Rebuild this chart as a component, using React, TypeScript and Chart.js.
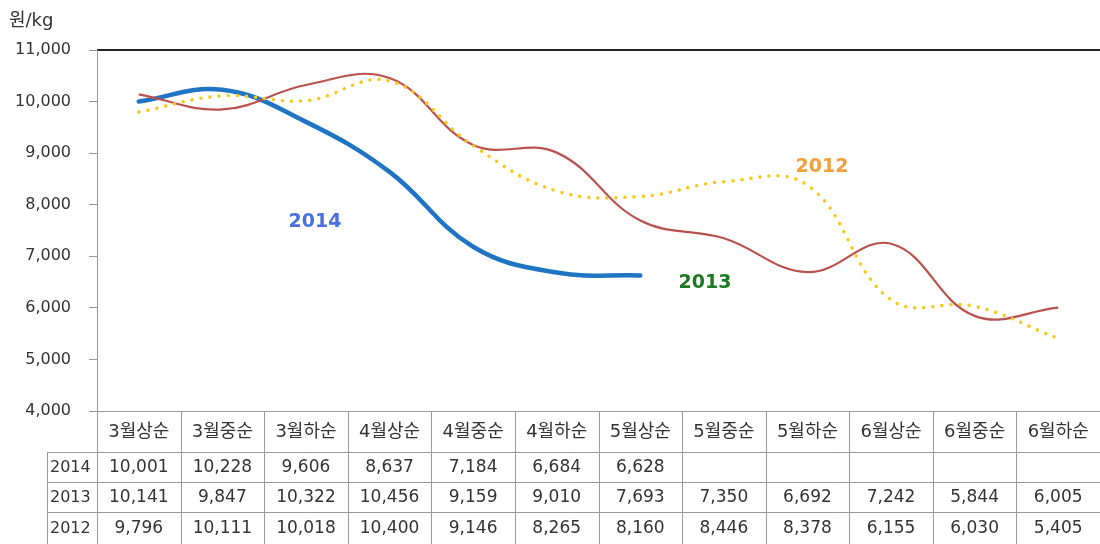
import React, { useEffect, useRef } from "react";
import { Chart, registerables } from "chart.js";

Chart.register(...registerables);

const categories = ["3월상순", "3월중순", "3월하순", "4월상순", "4월중순", "4월하순", "5월상순", "5월중순", "5월하순", "6월상순", "6월중순", "6월하순"];
const series2014: (number | null)[] = [10001, 10228, 9606, 8637, 7184, 6684, 6628, null, null, null, null, null];
const series2013: (number | null)[] = [10141, 9847, 10322, 10456, 9159, 9010, 7693, 7350, 6692, 7242, 5844, 6005];
const series2012: (number | null)[] = [9796, 10111, 10018, 10400, 9146, 8265, 8160, 8446, 8378, 6155, 6030, 5405];
const yTicks = [4000, 5000, 6000, 7000, 8000, 9000, 10000, 11000];
const unitLabel = "원/kg";

const FONT = '"DejaVu Sans", "Noto Sans CJK KR", sans-serif';
const fmt = (v: number | null) => (v === null ? "" : v.toLocaleString("en-US"));

const tablePlugin = {
  id: "dataTable",
  afterDraw(chart: any) {
    const ctx = chart.ctx;
    const xs = chart.scales.x;
    const area = chart.chartArea;
    const n = categories.length;
    const step = (area.right - area.left) / n;
    const rowsY = [area.bottom, 452, 482, 512, 544];
    const labelLeft = 47;
    ctx.save();
    ctx.strokeStyle = "#222";
    ctx.lineWidth = 2;
    ctx.beginPath();
    ctx.moveTo(area.left, area.top);
    ctx.lineTo(area.right, area.top);
    ctx.stroke();

    ctx.strokeStyle = "#9a9a9a";
    ctx.lineWidth = 1;
    ctx.beginPath();
    ctx.moveTo(area.left - 8, area.bottom + 0.5);
    ctx.lineTo(area.right, area.bottom + 0.5);
    for (let r = 1; r < rowsY.length - 1; r++) {
      ctx.moveTo(labelLeft, rowsY[r] + 0.5);
      ctx.lineTo(area.right, rowsY[r] + 0.5);
    }
    for (let i = 0; i <= n; i++) {
      const x = Math.round(xs.getPixelForValue(i) - step / 2) + 0.5;
      ctx.moveTo(x, i === 0 ? area.top : area.bottom);
      ctx.lineTo(x, 544);
    }
    ctx.moveTo(labelLeft + 0.5, rowsY[1]);
    ctx.lineTo(labelLeft + 0.5, 544);
    ctx.stroke();

    ctx.fillStyle = "#333";
    ctx.textBaseline = "middle";
    ctx.textAlign = "center";
    ctx.font = `18px ${FONT}`;
    categories.forEach((c, i) => {
      ctx.fillText(c, xs.getPixelForValue(i), (rowsY[0] + rowsY[1]) / 2 + 1);
    });
    const rows: [string, (number | null)[]][] = [
      ["2014", series2014],
      ["2013", series2013],
      ["2012", series2012],
    ];
    rows.forEach(([name, vals], r) => {
      const cy = (rowsY[r + 1] + rowsY[r + 2]) / 2 + 1;
      ctx.textAlign = "left";
      ctx.font = `16px ${FONT}`;
      ctx.fillText(name, labelLeft + 3, cy);
      ctx.textAlign = "center";
      ctx.font = `17px ${FONT}`;
      vals.forEach((v, i) => {
        ctx.fillText(fmt(v), xs.getPixelForValue(i), cy);
      });
    });

    ctx.font = `bold 19px ${FONT}`;
    ctx.fillStyle = "#4a6fe0";
    ctx.fillText("2014", 315, 222);
    ctx.fillStyle = "#1e7a22";
    ctx.fillText("2013", 705, 283);
    ctx.fillStyle = "#f0a038";
    ctx.fillText("2012", 822, 167);
    ctx.fillStyle = "#333";
    ctx.textAlign = "left";
    ctx.font = `18px ${FONT}`;
    ctx.fillText(unitLabel, 9, 21);
    ctx.restore();
  },
};

export default function App() {
  const ref = useRef<HTMLCanvasElement>(null);
  useEffect(() => {
    if (!ref.current) return;
    const chart = new Chart(ref.current, {
      type: "line",
      data: {
        labels: categories,
        datasets: [
          {
            label: "2012",
            data: series2012,
            borderColor: "#f7c81e",
            borderWidth: 3.5,
            borderDash: [0.1, 9],
            borderCapStyle: "round",
            pointRadius: 0,
            tension: 0.4,
          },
          {
            label: "2013",
            data: series2013,
            borderColor: "#b9524f",
            borderWidth: 2.2,
            pointRadius: 0,
            tension: 0.4,
          },
          {
            label: "2014",
            data: series2014,
            borderColor: "#1f74c4",
            borderWidth: 4.5,
            borderCapStyle: "round",
            pointRadius: 0,
            tension: 0.4,
          },
        ],
      },
      options: {
        responsive: false,
        animation: false,
        layout: { padding: { top: 50, bottom: 133, left: 0, right: 0 } },
        plugins: { legend: { display: false }, tooltip: { enabled: false } },
        scales: {
          x: {
            display: false,
            offset: true,
          },
          y: {
            min: 4000,
            max: 11000,
            afterFit: (s: any) => {
              s.width = 97;
            },
            afterBuildTicks: (s: any) => {
              s.ticks = yTicks.map((v) => ({ value: v }));
            },
            ticks: {
              padding: 18,
              color: "#333",
              font: { family: FONT, size: 16 },
              callback: (v: any) => Number(v).toLocaleString("en-US"),
            },
            grid: { drawOnChartArea: false, drawTicks: true, tickLength: 8, color: "#9a9a9a" },
            border: { display: true, color: "#9a9a9a" },
          },
        },
      },
      plugins: [tablePlugin],
    });
    return () => chart.destroy();
  }, []);
  return (
    <div style={{ position: "fixed", left: 0, top: 0, width: 1100, height: 544, background: "#fff" }}>
      <canvas ref={ref} width={1100} height={544} style={{ display: "block" }} />
    </div>
  );
}
